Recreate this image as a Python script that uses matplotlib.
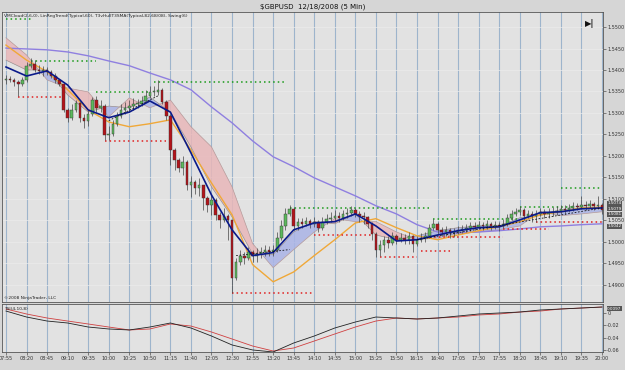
import matplotlib.pyplot as plt
import numpy as np

# === Price data (5 min bars, 07:55 - 20:00) ===
first_open = 1.5377
closes = [1.5379, 1.5377, 1.5372, 1.5368, 1.5377, 1.5410, 1.5414, 1.5400, 1.5398, 1.5400,
          1.5396, 1.5386, 1.5377, 1.5368, 1.5307, 1.5289, 1.5307, 1.5323, 1.5289, 1.5282,
          1.5298, 1.5330, 1.5312, 1.5316, 1.5249, 1.5251, 1.5275, 1.5293, 1.5307, 1.5312,
          1.5316, 1.5321, 1.5321, 1.5328, 1.5340, 1.5349, 1.5349, 1.5354, 1.5326, 1.5293,
          1.5214, 1.5191, 1.5172, 1.5186, 1.5133, 1.5140, 1.5126, 1.5133, 1.5102, 1.5086,
          1.5098, 1.5063, 1.5051, 1.5061, 1.5051, 1.4916, 1.4954, 1.4968, 1.4963, 1.4977,
          1.4968, 1.4972, 1.4977, 1.4982, 1.4977, 1.4982, 1.5009, 1.5037, 1.5065, 1.5077,
          1.5037, 1.5047, 1.5042, 1.5049, 1.5042, 1.5047, 1.5033, 1.5047, 1.5054, 1.5056,
          1.5061, 1.5056, 1.5065, 1.5068, 1.5074, 1.5065, 1.5061, 1.5058, 1.5042, 1.5019,
          1.4982, 1.4993, 1.5005, 1.4998, 1.5014, 1.5005, 1.5009, 1.5005, 1.5014, 1.4996,
          1.5005, 1.5009, 1.5014, 1.5033, 1.5042, 1.5028, 1.5023, 1.5028, 1.5021, 1.5023,
          1.5028, 1.5030, 1.5033, 1.5037, 1.5035, 1.5040, 1.5037, 1.5042, 1.5037, 1.5040,
          1.5037, 1.5042, 1.5056, 1.5065, 1.5070, 1.5074, 1.5061, 1.5065, 1.5061, 1.5065,
          1.5070, 1.5065, 1.5068, 1.5070, 1.5072, 1.5077, 1.5074, 1.5079, 1.5084, 1.5081,
          1.5086, 1.5084, 1.5088, 1.5084, 1.5086, 1.5074]
highs = [1.5389, 1.5386, 1.5382, 1.5377, 1.5384, 1.5419, 1.5428, 1.5423, 1.5412, 1.5410,
         1.5407, 1.5400, 1.5393, 1.5379, 1.5370, 1.5312, 1.5321, 1.5330, 1.5326, 1.5298,
         1.5307, 1.5337, 1.5340, 1.5330, 1.5321, 1.5270, 1.5284, 1.5302, 1.5321, 1.5326,
         1.5330, 1.5335, 1.5333, 1.5340, 1.5354, 1.5363, 1.5363, 1.5377, 1.5358, 1.5330,
         1.5298, 1.5219, 1.5196, 1.5200, 1.5191, 1.5154, 1.5144, 1.5149, 1.5133, 1.5107,
         1.5109, 1.5102, 1.5070, 1.5079, 1.5065, 1.5051, 1.4963, 1.4982, 1.4977, 1.4989,
         1.4982, 1.4986, 1.4989, 1.4993, 1.4991, 1.4993, 1.5023, 1.5051, 1.5079, 1.5086,
         1.5081, 1.5056, 1.5056, 1.5058, 1.5054, 1.5058, 1.5051, 1.5058, 1.5065, 1.5070,
         1.5074, 1.5070, 1.5074, 1.5079, 1.5084, 1.5079, 1.5072, 1.5070, 1.5061, 1.5047,
         1.5023, 1.5005, 1.5014, 1.5014, 1.5023, 1.5019, 1.5021, 1.5019, 1.5023, 1.5016,
         1.5014, 1.5021, 1.5023, 1.5042, 1.5054, 1.5047, 1.5035, 1.5037, 1.5033, 1.5033,
         1.5037, 1.5040, 1.5042, 1.5047, 1.5047, 1.5049, 1.5047, 1.5051, 1.5047, 1.5049,
         1.5047, 1.5054, 1.5065, 1.5074, 1.5079, 1.5084, 1.5079, 1.5074, 1.5072, 1.5074,
         1.5079, 1.5077, 1.5079, 1.5081, 1.5084, 1.5086, 1.5086, 1.5088, 1.5093, 1.5091,
         1.5107, 1.5095, 1.5098, 1.5093, 1.5107, 1.5091]
lows = [1.5368, 1.5372, 1.5363, 1.5340, 1.5363, 1.5372, 1.5405, 1.5396, 1.5391, 1.5386,
        1.5389, 1.5382, 1.5370, 1.5363, 1.5302, 1.5279, 1.5284, 1.5302, 1.5279, 1.5265,
        1.5270, 1.5293, 1.5302, 1.5302, 1.5237, 1.5237, 1.5247, 1.5270, 1.5289, 1.5298,
        1.5302, 1.5307, 1.5312, 1.5316, 1.5326, 1.5335, 1.5340, 1.5342, 1.5321, 1.5284,
        1.5179, 1.5168, 1.5163, 1.5156, 1.5121, 1.5105, 1.5112, 1.5107, 1.5074, 1.5070,
        1.5063, 1.5051, 1.5033, 1.5047, 1.5005, 1.4882, 1.4912, 1.4947, 1.4949, 1.4958,
        1.4954, 1.4954, 1.4963, 1.4968, 1.4968, 1.4968, 1.4977, 1.5005, 1.5028, 1.5061,
        1.5028, 1.5028, 1.5033, 1.5037, 1.5033, 1.5035, 1.5023, 1.5028, 1.5042, 1.5047,
        1.5047, 1.5047, 1.5051, 1.5056, 1.5061, 1.5058, 1.5047, 1.5042, 1.5033, 1.5005,
        1.4965, 1.4968, 1.4977, 1.4986, 1.4993, 1.4996, 1.5000, 1.4996, 1.4996, 1.4977,
        1.4991, 1.5000, 1.5000, 1.5009, 1.5028, 1.5019, 1.5014, 1.5014, 1.5009, 1.5012,
        1.5019, 1.5021, 1.5023, 1.5026, 1.5028, 1.5030, 1.5028, 1.5030, 1.5028, 1.5030,
        1.5026, 1.5033, 1.5037, 1.5051, 1.5061, 1.5063, 1.5051, 1.5056, 1.5047, 1.5047,
        1.5061, 1.5056, 1.5056, 1.5061, 1.5063, 1.5065, 1.5065, 1.5070, 1.5072, 1.5074,
        1.5077, 1.5074, 1.5079, 1.5074, 1.5077, 1.5065]
opens = [first_open] + closes[:-1]

time_labels = ["07:55", "08:20", "08:45", "09:10", "09:35", "10:00", "10:25", "10:50",
               "11:15", "11:40", "12:05", "12:30", "12:55", "13:20", "13:45", "14:10",
               "14:35", "15:00", "15:25", "15:50", "16:15", "16:40", "17:05", "17:30",
               "17:55", "18:20", "18:45", "19:10", "19:35", "20:00"]
label_bars = list(range(0, 146, 5))

# === Indicators, read every 5 bars ===
ind_bars = label_bars
purple_line = [1.5451, 1.5449, 1.5447, 1.5442, 1.5433, 1.5421, 1.5410, 1.5393, 1.5377, 1.5354,
               1.5314, 1.5277, 1.5235, 1.5198, 1.5175, 1.5149, 1.5128, 1.5107, 1.5084, 1.5065,
               1.5040, 1.5023, 1.5021, 1.5023, 1.5026, 1.5030, 1.5035, 1.5037, 1.5040, 1.5042]
orange_line = [1.5458, 1.5423, 1.5396, 1.5354, 1.5307, 1.5279, 1.5268, 1.5275, 1.5284, 1.5214,
               1.5137, 1.5063, 1.4947, 1.4907, 1.4930, 1.4968, 1.5005, 1.5044, 1.5054, 1.5033,
               1.5014, 1.5005, 1.5016, 1.5026, 1.5035, 1.5047, 1.5063, 1.5070, 1.5079, 1.5081]
blue_line = [1.5407, 1.5386, 1.5398, 1.5365, 1.5307, 1.5289, 1.5302, 1.5328, 1.5302, 1.5207,
             1.5109, 1.5028, 1.4968, 1.4975, 1.5028, 1.5044, 1.5047, 1.5065, 1.5037, 1.5002,
             1.5005, 1.5016, 1.5026, 1.5033, 1.5035, 1.5051, 1.5068, 1.5070, 1.5077, 1.5079]
cloud_a = [1.5423, 1.5400, 1.5400, 1.5342, 1.5302, 1.5316, 1.5312, 1.5337, 1.5302, 1.5221,
           1.5128, 1.5058, 1.4972, 1.4970, 1.5023, 1.5047, 1.5042, 1.5065, 1.5016, 1.5005,
           1.5014, 1.5026, 1.5033, 1.5037, 1.5037, 1.5056, 1.5061, 1.5075, 1.5079, 1.5079]
cloud_b = [1.5475, 1.5435, 1.5377, 1.5358, 1.5349, 1.5291, 1.5335, 1.5312, 1.5330, 1.5268,
           1.5221, 1.5128, 1.4996, 1.4940, 1.4982, 1.5023, 1.5054, 1.5047, 1.5047, 1.5023,
           1.5005, 1.5009, 1.5019, 1.5023, 1.5028, 1.5037, 1.5070, 1.5061, 1.5065, 1.5070]

# swing levels: (price, first bar, last bar)
swing_highs = [(1.5519, 0, 6), (1.5421, 6, 22), (1.5349, 22, 35), (1.5372, 36, 68),
               (1.5079, 69, 103), (1.5054, 104, 125), (1.5081, 125, 138), (1.5126, 135, 145)]
swing_lows = [(1.5337, 3, 14), (1.5235, 24, 39), (1.4882, 55, 75), (1.5016, 75, 89),
              (1.4965, 91, 100), (1.4979, 101, 108), (1.5012, 102, 121), (1.5030, 121, 132),
              (1.5047, 129, 145)]
linreg_segments = [((25, 37), (1.5282, 1.5340)), ((56, 69), (1.4968, 1.4982)),
                   ((100, 145), (1.5005, 1.5079))]

# TSI lower panel
tsi_black = [0.0032, -0.0065, -0.0130, -0.0162, -0.0227, -0.0259, -0.0275, -0.0227, -0.0162, -0.0243,
             -0.0373, -0.0518, -0.0599, -0.0632, -0.0486, -0.0373, -0.0243, -0.0146, -0.0065, -0.0081,
             -0.0097, -0.0081, -0.0049, -0.0016, 0.0, 0.0016, 0.0049, 0.0065, 0.0081, 0.0097]
tsi_red = [0.0065, -0.0016, -0.0081, -0.0130, -0.0178, -0.0227, -0.0275, -0.0259, -0.0178, -0.0211,
           -0.0308, -0.0421, -0.0535, -0.0616, -0.0567, -0.0454, -0.0340, -0.0227, -0.0130, -0.0081,
           -0.0097, -0.0081, -0.0065, -0.0032, -0.0016, 0.0016, 0.0032, 0.0065, 0.0081, 0.0097]

price_ticks = [1.4900, 1.4950, 1.5000, 1.5050, 1.5100, 1.5150, 1.5200, 1.5250,
               1.5300, 1.5350, 1.5400, 1.5450, 1.5500]
tsi_ticks = [0, -0.02, -0.04, -0.06]
# right-edge value boxes: (value shown, where the box sits)
value_boxes = [(closes[-1], 1.5090), (blue_line[-1], 1.5077), (orange_line[-1], 1.5064),
               (purple_line[-1], 1.5036)]

# === Figure ===
bg = '#d6d6d6'
panel = '#e2e2e2'
grid_c = '#9db4cc'
fig = plt.figure(figsize=(6.25, 3.70), dpi=100, facecolor=bg)
ax = fig.add_axes([2 / 625, 68 / 370, 601 / 625, 290 / 370], facecolor=panel)
ax2 = fig.add_axes([2 / 625, 18 / 370, 601 / 625, 48 / 370], facecolor=panel)

xlim = (-0.97, 145.25)
for a in (ax, ax2):
    a.set_xlim(*xlim)
    for b in label_bars:
        a.axvline(b, color=grid_c, lw=0.8, zorder=0)
    for s in a.spines.values():
        s.set_color('#555555')
        s.set_linewidth(0.6)
    a.yaxis.tick_right()
    a.tick_params(axis='y', labelsize=3.5, length=2, width=0.4, colors='#333333', pad=1)
ax.set_ylim(1.4860, 1.5535)
ax.set_yticks(price_ticks)
ax.set_yticklabels([f'{p:.4f}' for p in price_ticks])
ax.set_xticks([])
for p in price_ticks:
    ax.axhline(p, color='#ececec', lw=0.5, zorder=0)

# cloud
ca = np.array(cloud_a)
cb = np.array(cloud_b)
ax.fill_between(ind_bars, ca, cb, where=ca < cb, interpolate=True,
                color='#e9b7b9', alpha=0.85, lw=0, zorder=1)
ax.fill_between(ind_bars, ca, cb, where=ca >= cb, interpolate=True,
                color='#aab4e6', alpha=0.85, lw=0, zorder=1)
ax.plot(ind_bars, cloud_a, color='#9a8f8f', lw=0.5, zorder=1.5)
ax.plot(ind_bars, cloud_b, color='#b59a9a', lw=0.5, zorder=1.5)

# slow lines
ax.plot(ind_bars, purple_line, color='#8f7fe0', lw=1.0, zorder=2)
ax.plot(ind_bars, orange_line, color='#f0a838', lw=1.0, zorder=2)

# swings
for p, b0, b1 in swing_highs:
    ax.plot([b0, b1], [p, p], color='#1a9a1a', lw=1.1, ls=(0, (1, 2)), zorder=2)
for p, b0, b1 in swing_lows:
    ax.plot([b0, b1], [p, p], color='#e02020', lw=1.1, ls=(0, (1, 2)), zorder=2)

# candles
bars = np.arange(len(closes))
o = np.array(opens)
c = np.array(closes)
up = c >= o
ax.vlines(bars, lows, highs, color='#444444', lw=0.5, zorder=3)
body = np.where(np.abs(c - o) < 0.00012, 0.00012, c - o)
ax.bar(bars, body, bottom=o, width=0.62, color=np.where(up, '#5cb85c', '#b3141a'),
       edgecolor='#333333', linewidth=0.3, zorder=4)

# blue and linreg
ax.plot(ind_bars, blue_line, color='#0a1a8a', lw=1.2, zorder=5)
for (b0, b1), (p0, p1) in linreg_segments:
    ax.plot([b0, b1], [p0, p1], color='#111111', lw=0.6, ls=(0, (2, 2)), zorder=5)

# last value boxes
for val, pos in value_boxes:
    ax.annotate(f'{val:.4f}', xy=(1.0, pos), xycoords=('axes fraction', 'data'),
                xytext=(3, 0), textcoords='offset points', fontsize=3.0, color='white',
                va='center', ha='left',
                bbox=dict(boxstyle='square,pad=0.1', fc='#555555', ec='none'), annotation_clip=False)

ax.text(0.004, 0.992, 'VMCloud(2,6,0), LinRegTrend(Typical,60), T3vHullT3SMA(Typical,82,68/08), Swing(6)',
        transform=ax.transAxes, fontsize=3.2, va='top', ha='left', color='#222222')
ax.text(0.004, 0.008, '\u00a92008 NinjaTrader, LLC', transform=ax.transAxes, fontsize=3.2,
        va='bottom', ha='left', color='#222222')
ax.text(0.985, 0.975, '\u25b6|', transform=ax.transAxes, fontsize=6, fontweight='bold',
        va='top', ha='right', color='#111111')
fig.text(0.5, 0.99, '$GBPUSD  12/18/2008 (5 Min)', fontsize=5, ha='center', va='top', color='#111111')

# lower panel
ax2.set_ylim(-0.0632, 0.0146)
ax2.set_yticks(tsi_ticks)
ax2.set_yticklabels(['0', '-0.02', '-0.04', '-0.06'])
ax2.plot(ind_bars, tsi_red, color='#d04040', lw=0.6)
ax2.plot(ind_bars, tsi_black, color='#222222', lw=0.6)
ax2.set_xticks(label_bars)
ax2.set_xticklabels(time_labels)
ax2.tick_params(axis='x', labelsize=3.5, length=2, width=0.4, colors='#333333', pad=1)
ax2.text(0.004, 0.93, 'TSI(4,10,8)', transform=ax2.transAxes, fontsize=3.2, va='top', color='#222222')
ax2.annotate(f'{tsi_black[-1]:.4f}', xy=(1.0, 0.0146), xycoords=('axes fraction', 'data'),
             xytext=(3, -2), textcoords='offset points', fontsize=3.0, color='white', va='top',
             bbox=dict(boxstyle='square,pad=0.1', fc='#555555', ec='none'), annotation_clip=False)

fig.savefig('out.png', dpi=100, facecolor=bg)
